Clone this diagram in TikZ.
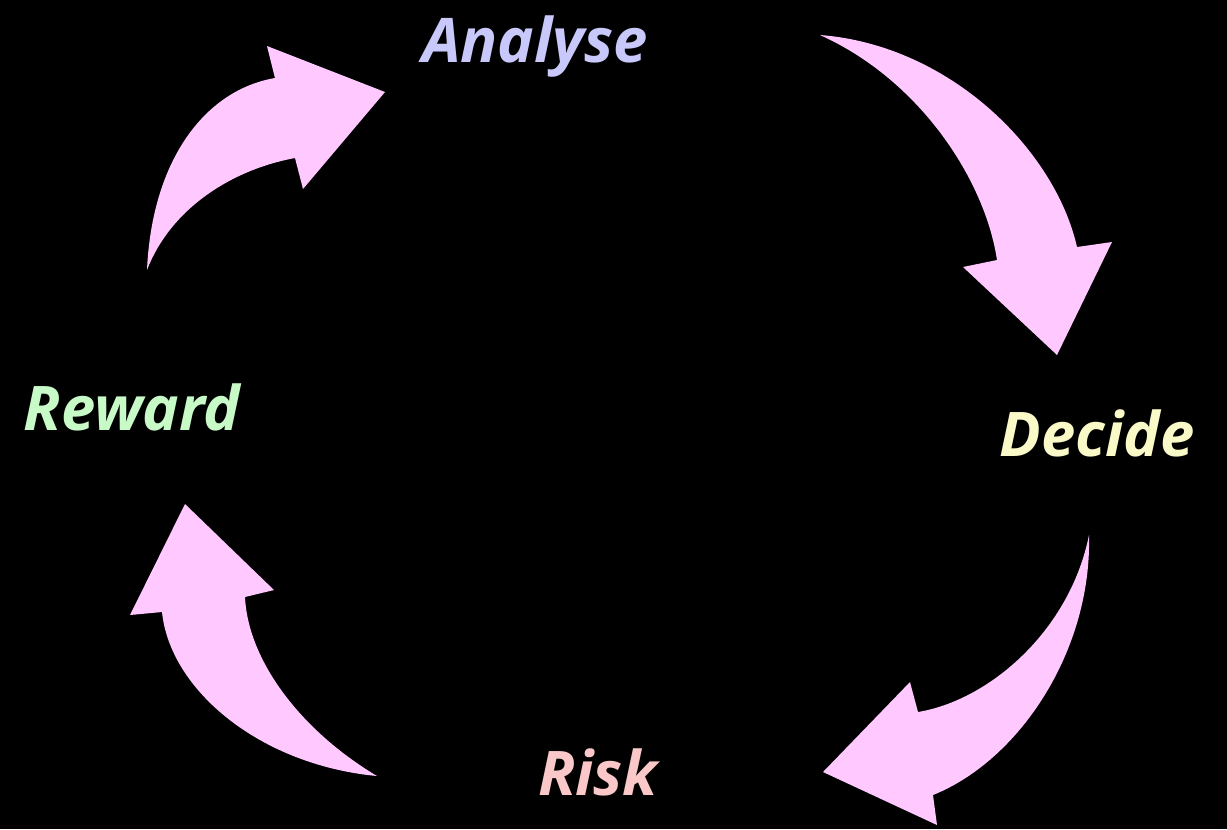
\documentclass[tikz,border=0pt]{standalone}
\usepackage{fontspec}
\setmainfont{Open Sans}
\usepackage{tikz}

\definecolor{arrowpink}{RGB}{255,200,255}
\definecolor{analysecol}{RGB}{200,200,250}
\definecolor{decidecol}{RGB}{250,250,200}
\definecolor{riskcol}{RGB}{250,200,200}
\definecolor{rewardcol}{RGB}{200,250,200}

\tikzset{
    word/.style={font=\fontsize{17.5}{21}\selectfont\bfseries\itshape, inner sep=0pt},
    bentarrow/.style={fill=arrowpink, draw=none}
}

\begin{document}
\begin{tikzpicture}[x=0.01cm, y=-0.01cm]
        \fill[black] (0,0) rectangle (1227,829);

        \node (analyse) [word, text=analysecol] at (535,46) {Analyse};
        \node (decide) [word, text=decidecol] at (1097,433) {Decide};
        \node (risk) [word, text=riskcol] at (598,772) {Risk};
        \node (reward) [word, text=rewardcol] at (132,407) {Reward};

        % reward to analyse
        \fill[bentarrow] (147,270) .. controls (152,160) and (205,90) .. (275,78)
            -- (267,46) -- (385,92) -- (303,189) -- (295,158)
            .. controls (230,170) and (170,210) .. (147,270) -- cycle;
        % analyse to decide
        \fill[bentarrow] (820,35) .. controls (950,45) and (1055,150) .. (1077,247)
            -- (1112,242) -- (1057,355) -- (963,267) -- (997,260)
            .. controls (985,180) and (920,80) .. (820,35) -- cycle;
        % decide to risk
        \fill[bentarrow] (1089,535) .. controls (1092,650) and (1020,760) .. (933,795)
            -- (937,825) -- (823,772) -- (910,682) -- (918,712)
            .. controls (990,700) and (1070,630) .. (1089,535) -- cycle;
        % risk to reward
        \fill[bentarrow] (377,776) .. controls (260,765) and (170,690) .. (162,612)
            -- (130,615) -- (185,504) -- (274,590) -- (245,597)
            .. controls (248,660) and (300,730) .. (377,776) -- cycle;
    \end{tikzpicture}
\end{document}
